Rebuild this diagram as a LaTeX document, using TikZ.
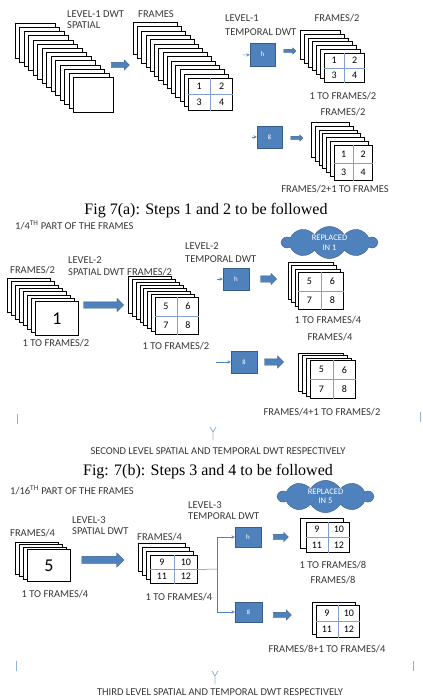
\documentclass[tikz,border=0pt]{standalone}
\usepackage{fontspec}
\setmainfont{Liberation Serif}
\setsansfont{Carlito}
\usetikzlibrary{shapes.symbols}
\usetikzlibrary{shapes.arrows}
\usetikzlibrary{positioning}
\usetikzlibrary{calc}

\definecolor{dwtblue}{RGB}{79,129,189}
\definecolor{dwtedge}{RGB}{56,93,138}
\definecolor{gridblue}{RGB}{130,160,205}
\definecolor{labelgray}{RGB}{55,55,55}
\definecolor{bracefade}{RGB}{150,175,215}

% #1 name, #2 last index, #3 #4 first corner, #5 #6 step, #7 #8 size
\newcommand{\framestack}[8]{%
  \foreach \i in {0,...,#2}
    \node[frm, minimum width=#7pt, minimum height=#8pt] (#1-\i) at ({#3+\i*#5},{#4+\i*#6}) {};
}
% #1 front frame, #2..#5 numbers of the four quarters
\newcommand{\quarters}[5]{%
  \draw[gridln] (#1.north) -- (#1.south) (#1.west) -- (#1.east);
  \node[num] at ($(#1.center)!.5!(#1.north west)$) {#2};
  \node[num] at ($(#1.center)!.5!(#1.north east)$) {#3};
  \node[num] at ($(#1.center)!.5!(#1.south west)$) {#4};
  \node[num] at ($(#1.center)!.5!(#1.south east)$) {#5};
}

\begin{document}
\begin{tikzpicture}[x=1pt,y=-1pt,
  frm/.style={draw,fill=white,line width=.9pt,anchor=north west,inner sep=0},
  lbl/.style={font=\sffamily\fontsize{10.5}{11}\selectfont,text=labelgray,inner sep=0},
  num/.style={font=\sffamily\fontsize{10}{11}\selectfont,inner sep=0},
  bignum/.style={font=\sffamily\fontsize{18}{20}\selectfont,inner sep=0},
  caption/.style={font=\fontsize{16}{17}\selectfont,inner sep=0},
  filt/.style={fill=dwtblue,draw=dwtedge,line width=.4pt,text=white,font=\sffamily\scriptsize,inner sep=0},
  blk/.style={single arrow,fill=dwtblue,draw=dwtedge,line width=.3pt,inner xsep=0,minimum width=0},
  cloudy/.style={cloud,cloud puffs=10,cloud puff arc=120,aspect=3.2,fill=dwtblue,draw=dwtedge,text=white,
    font=\sffamily\fontsize{8.5}{9.5}\selectfont,align=center,inner sep=0},
  feed/.style={->,>=stealth,draw=dwtblue,line width=.5pt},
  gridln/.style={draw=gridblue,line width=.6pt},
  bracemark/.style={draw=bracefade,line width=.8pt}]
\useasboundingbox (0,0) rectangle (423,697);

\framestack{spa1}{13}{15}{23}{4.46}{4.15}{40}{35}
\framestack{spo1}{13}{133}{22}{4.23}{4.3}{44}{32}
\quarters{spo1-13}{1}{2}{3}{4}
\node[lbl,anchor=west] (l1a) at (67,14) {LEVEL-1 DWT};
\node[lbl,anchor=west] (l1b) at (67,25) {SPATIAL};
\node[lbl,anchor=west] (l1c) at (138,14) {FRAMES};
\node[blk,minimum height=18pt,inner ysep=2.5pt,single arrow head extend=2.5pt] (sa1) at (119,65) {};
\node[lbl,anchor=west] (l1d) at (225,18) {LEVEL-1};
\node[lbl,anchor=west] (l1e) at (225,32) {TEMPORAL DWT};
\node[filt,minimum width=25pt,minimum height=23pt] (hf1) at (262.5,54.5) {h};
\node[filt,minimum width=25pt,minimum height=22pt] (gf1) at (269.5,137) {g};
\coordinate (inh1) at (243,55);
\coordinate (ing1) at (252,137);
\draw[feed] (inh1) -- (hf1);
\draw[feed] (ing1) -- (gf1);
\node[blk,minimum height=12pt,inner ysep=1.5pt,single arrow head extend=1.5pt] (ha1) at (289,51) {};
\node[blk,minimum height=12pt,inner ysep=1.5pt,single arrow head extend=1.5pt] (ga1) at (296,138) {};
\framestack{hio1}{6}{300}{30}{4}{3.83}{40}{29}
\quarters{hio1-6}{1}{2}{3}{4}
\node[lbl] (l1f) at (337,18) {FRAMES/2};
\node[lbl] (l1g) at (343,96) {1 TO FRAMES/2};
\node[lbl] (l1h) at (343,112) {FRAMES/2};
\framestack{loo1}{6}{311}{122}{3.83}{3.83}{38}{35}
\quarters{loo1-6}{1}{2}{3}{4}
\node[lbl] (l1i) at (335,189) {FRAMES/2+1 TO FRAMES};
\node[caption] (cap1) at (206,211) {Fig 7(a): Steps 1 and 2 to be followed};

\node[lbl,anchor=west] (l2a) at (15,225) {1/4\textsuperscript{TH} PART OF THE FRAMES};
\node[lbl,anchor=west] (l2b) at (10,270) {FRAMES/2};
\node[lbl,anchor=west] (l2c) at (68,260) {LEVEL-2};
\node[lbl,anchor=west] (l2d) at (68,272) {SPATIAL DWT};
\node[lbl,anchor=west] (l2e) at (127,272) {FRAMES/2};
\framestack{spa2}{7}{7}{278}{4}{3.3}{43}{34}
\node[bignum] (one) at (spa2-7.center) {1};
\node[lbl] (l2f) at (56,343) {1 TO FRAMES/2};
\node[blk,minimum height=40pt,inner ysep=3pt,single arrow head extend=3.5pt] (sa2) at (102,305) {};
\framestack{spo2}{7}{128}{276}{3.86}{3}{43}{37}
\quarters{spo2-7}{5}{6}{7}{8}
\node[lbl] (l2g) at (176,346) {1 TO FRAMES/2};
\node[lbl,anchor=west] (l2h) at (185,246) {LEVEL-2};
\node[lbl,anchor=west] (l2i) at (185,259) {TEMPORAL DWT};
\node[filt,minimum width=26pt,minimum height=22pt] (hf2) at (236,279) {h};
\node[filt,minimum width=26pt,minimum height=22pt] (gf2) at (244,362) {g};
\coordinate (inh2) at (217,279);
\coordinate (ing2) at (216,362);
\draw[feed] (inh2) -- (hf2);
\draw[feed] (ing2) -- (gf2);
\node[blk,minimum height=16pt,inner ysep=3pt,single arrow head extend=2.5pt] (ha2) at (267,279) {};
\node[blk,minimum height=19pt,inner ysep=3pt,single arrow head extend=3pt] (ga2) at (272.5,362) {};
\node[cloudy,minimum width=95pt,minimum height=30pt] (rep1) at (329.5,242.5) {REPLACED\\IN 1};
\framestack{hio2}{3}{288}{262}{3.33}{3.33}{45}{37}
\quarters{hio2-3}{5}{6}{7}{8}
\node[lbl] (l2j) at (328,320) {1 TO FRAMES/4};
\node[lbl] (l2k) at (330,337) {FRAMES/4};
\framestack{loo2}{3}{298}{353}{4}{2.33}{45}{38}
\quarters{loo2-3}{5}{6}{7}{8}
\node[lbl] (l2l) at (322,412) {FRAMES/4+1 TO FRAMES/2};
\draw[bracemark] (17,414) -- (17,424) (420,412) -- (420,422);
\draw[bracemark] (210,427) -- (213,432) -- (216,427) (213,432) -- (213,440);
\node[lbl] (l2m) at (218,451) {SECOND LEVEL SPATIAL AND TEMPORAL DWT RESPECTIVELY};
\node[caption] (cap2) at (208,472) {Fig: 7(b): Steps 3 and 4 to be followed};

\node[lbl,anchor=west] (l3a) at (10,490) {1/16\textsuperscript{TH} PART OF THE FRAMES};
\node[lbl,anchor=west] (l3b) at (188,505) {LEVEL-3};
\node[lbl,anchor=west] (l3c) at (188,516) {TEMPORAL DWT};
\node[lbl,anchor=west] (l3d) at (72,520) {LEVEL-3};
\node[lbl,anchor=west] (l3e) at (72,531) {SPATIAL DWT};
\node[lbl,anchor=west] (l3f) at (10,533) {FRAMES/4};
\node[lbl,anchor=west] (l3g) at (137,537) {FRAMES/4};
\framestack{spa3}{3}{15}{542}{4}{2.33}{43}{32}
\node[bignum] (five) at (spa3-3.center) {5};
\node[lbl] (l3h) at (55,594) {1 TO FRAMES/4};
\node[blk,minimum height=42pt,inner ysep=3.5pt,single arrow head extend=3.5pt] (sa3) at (101,560) {};
\framestack{spo3}{3}{138}{543}{4}{4}{47}{28}
\quarters{spo3-3}{9}{10}{11}{12}
\node[lbl] (l3i) at (179,597) {1 TO FRAMES/4};
\node[filt,minimum width=26pt,minimum height=20pt] (hf3) at (248,537) {h};
\node[filt,minimum width=27pt,minimum height=20pt] (gf3) at (248.5,612) {g};
\coordinate (split3) at (217,569);
\draw[feed,-] (spo3-3.east) -- (split3);
\draw[feed] (split3) |- (hf3);
\draw[feed] (split3) |- (gf3);
\node[blk,minimum height=15pt,inner ysep=2.5pt,single arrow head extend=2pt] (ha3) at (279.5,537) {};
\node[blk,minimum height=18pt,inner ysep=2.5pt,single arrow head extend=2.5pt] (ga3) at (281,615) {};
\node[cloudy,minimum width=95pt,minimum height=28pt] (rep5) at (325.5,496.5) {REPLACED\\IN 5};
\framestack{hio3}{1}{300}{518}{6}{4}{43}{30}
\quarters{hio3-1}{9}{10}{11}{12}
\node[lbl] (l3j) at (333,565) {1 TO FRAMES/8};
\node[lbl] (l3k) at (333,580) {FRAMES/8};
\framestack{loo3}{1}{312}{602}{4}{3}{43}{32}
\quarters{loo3-1}{9}{10}{11}{12}
\node[lbl] (l3l) at (327,649) {FRAMES/8+1 TO FRAMES/4};
\draw[bracemark] (16,661) -- (16,671) (413,661) -- (413,671);
\draw[bracemark] (212,671) -- (215,676) -- (218,671) (215,676) -- (215,684);
\node[lbl] (l3m) at (220,692) {THIRD LEVEL SPATIAL AND TEMPORAL DWT RESPECTIVELY};
\end{tikzpicture}
\end{document}
